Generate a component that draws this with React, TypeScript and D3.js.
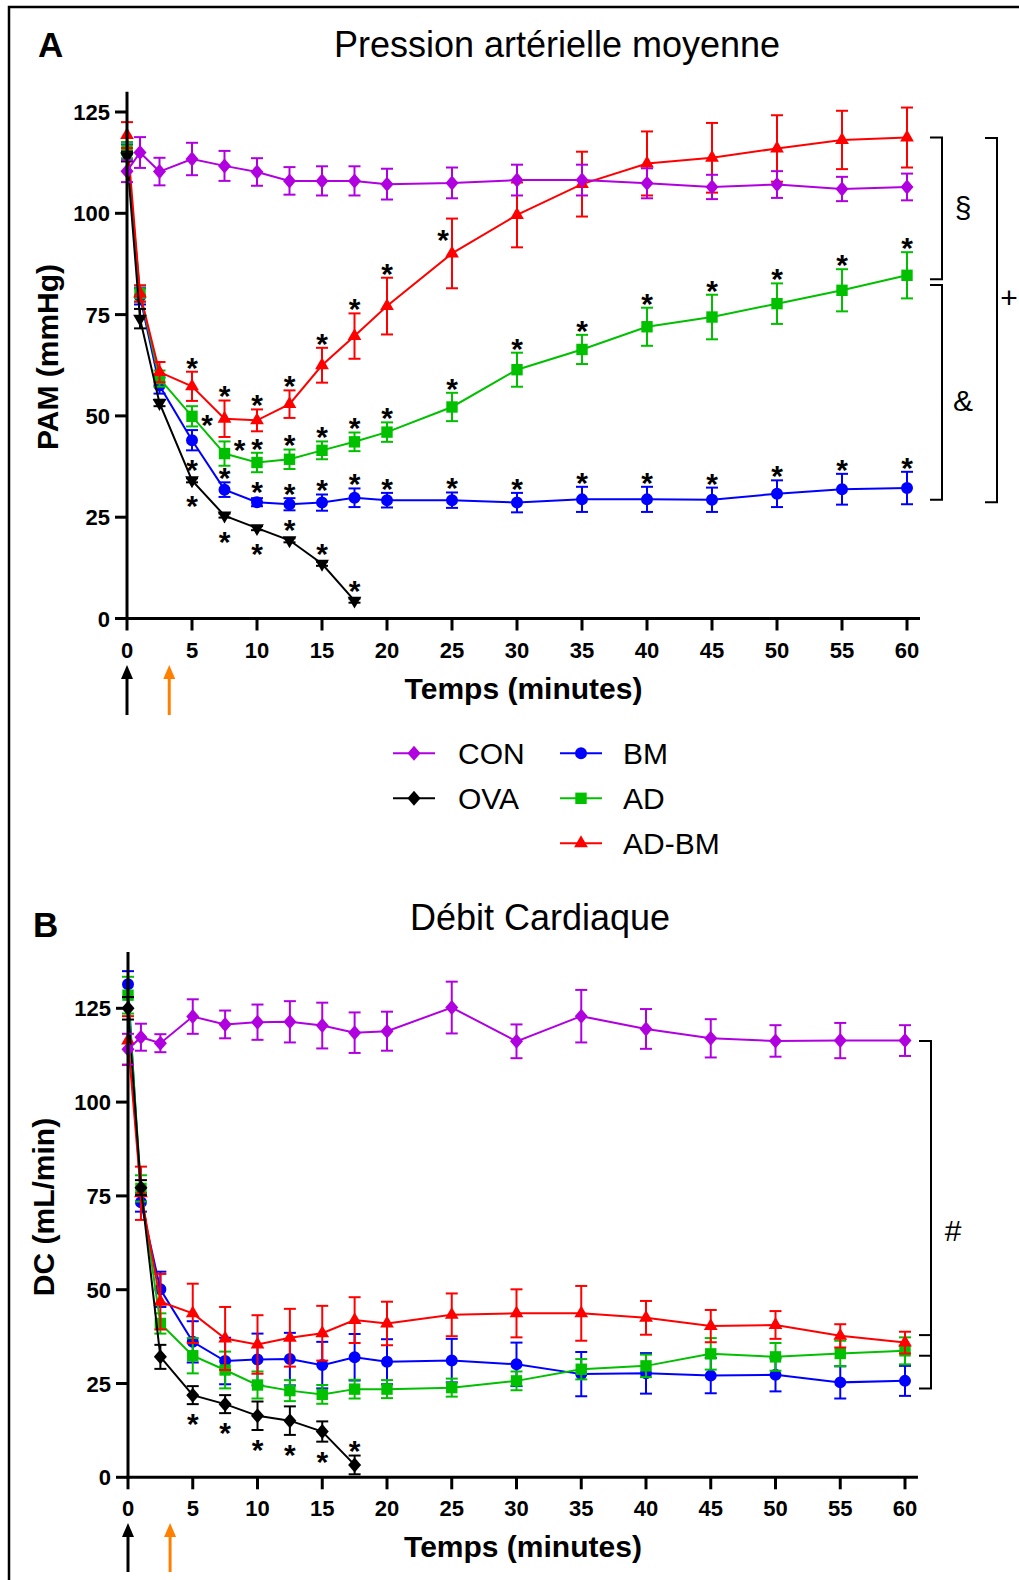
import React from 'react';
import * as d3 from 'd3';

// ---------- data ----------
const TIMES = [0, 1, 2.5, 5, 7.5, 10, 12.5, 15, 17.5, 20, 25, 30, 35, 40, 45, 50, 55, 60];
const TIMES_OVA = [0, 1, 2.5, 5, 7.5, 10, 12.5, 15, 17.5];
const X_TICKS = [0, 5, 10, 15, 20, 25, 30, 35, 40, 45, 50, 55, 60];
const Y_TICKS = [0, 25, 50, 75, 100, 125];

// Panel A : Pression artérielle moyenne (mmHg)
const A_CON = [110.4, 115.0, 110.3, 113.4, 111.7, 110.2, 108.0, 108.0, 108.0, 107.2, 107.5, 108.2, 108.2, 107.4, 106.5, 107.1, 106.0, 106.5];
const A_CON_ERR = [2.7, 3.8, 3.4, 4.0, 3.7, 3.4, 3.4, 3.6, 3.6, 3.8, 3.8, 3.8, 3.8, 3.7, 3.0, 3.3, 3.0, 3.3];
const A_OVA = [114.0, 74.0, 53.2, 34.1, 25.4, 22.3, 19.3, 13.5, 4.4];
const A_OVA_ERR = [1.2, 2.4, 0.8, 0.5, 0.5, 0.5, 0.5, 0.5, 0.5];
const A_BM = [115.0, 79.5, 57.5, 44.0, 31.8, 28.7, 28.2, 28.6, 29.8, 29.2, 29.2, 28.6, 29.4, 29.4, 29.3, 30.8, 31.9, 32.2];
const A_BM_ERR = [2.0, 2.0, 2.0, 2.5, 1.8, 1.0, 1.5, 2.0, 2.3, 1.8, 1.9, 2.4, 3.1, 3.1, 3.0, 3.3, 3.8, 4.0];
const A_AD = [115.6, 80.2, 59.2, 49.9, 40.7, 38.5, 39.3, 41.5, 43.6, 46.0, 52.2, 61.4, 66.4, 72.0, 74.4, 77.7, 81.0, 84.7];
const A_AD_ERR = [2.0, 2.0, 2.0, 2.5, 3.0, 2.4, 2.4, 2.2, 2.3, 2.4, 3.5, 4.2, 3.6, 4.7, 5.5, 5.0, 5.2, 5.7];
const A_ADBM = [119.3, 80.2, 60.8, 57.3, 49.3, 48.9, 52.9, 62.5, 69.7, 77.1, 90.1, 99.6, 107.2, 112.3, 113.7, 116.0, 118.1, 118.7];
const A_ADBM_ERR = [3.2, 2.0, 2.5, 3.6, 4.5, 2.7, 3.4, 4.3, 5.6, 7.0, 8.6, 8.0, 8.0, 7.9, 8.6, 8.2, 7.2, 7.4];

// Panel B : Débit cardiaque (mL/min)
const B_CON = [114.1, 117.3, 115.7, 122.8, 120.7, 121.3, 121.4, 120.4, 118.5, 118.9, 125.2, 116.2, 122.9, 119.5, 117.0, 116.3, 116.4, 116.4];
const B_CON_ERR = [4.1, 3.6, 2.4, 4.6, 3.7, 4.7, 5.5, 6.1, 5.4, 5.2, 6.9, 4.5, 7.0, 5.3, 5.1, 4.2, 4.7, 4.1];
const B_OVA = [125.0, 77.2, 32.1, 21.9, 19.5, 16.4, 15.1, 12.2, 3.3];
const B_OVA_ERR = [3.0, 2.0, 3.2, 2.4, 2.4, 3.8, 3.8, 2.7, 2.5];
const B_BM = [131.4, 73.3, 50.1, 36.1, 31.0, 31.4, 31.5, 29.9, 32.0, 30.8, 31.1, 30.1, 27.5, 27.7, 27.1, 27.3, 25.3, 25.7];
const B_BM_ERR = [3.5, 2.5, 4.7, 5.5, 6.2, 6.9, 7.0, 6.2, 6.2, 6.0, 5.8, 5.8, 5.9, 5.4, 4.7, 4.4, 4.3, 4.0];
const B_AD = [128.5, 77.0, 41.0, 32.4, 28.6, 24.6, 23.1, 22.1, 23.5, 23.5, 23.9, 25.7, 28.8, 29.7, 32.9, 32.1, 33.0, 33.7];
const B_AD_ERR = [4.9, 3.5, 2.7, 4.7, 4.9, 3.6, 2.8, 2.5, 2.5, 2.4, 2.4, 2.5, 2.7, 3.0, 4.2, 3.7, 3.4, 3.6];
const B_ADBM = [116.4, 75.7, 46.8, 43.7, 37.0, 35.4, 37.2, 38.4, 41.9, 41.0, 43.3, 43.7, 43.7, 42.5, 40.3, 40.6, 37.7, 35.9];
const B_ADBM_ERR = [6.5, 7.1, 7.4, 7.9, 8.4, 7.8, 7.7, 7.3, 6.1, 5.8, 5.7, 6.4, 7.3, 4.5, 4.3, 3.7, 3.1, 2.9];

// significance asterisks: [time, placement]
const A_STARS_ADBM: [number, string][] = [[5, 'above'], [7.5, 'above'], [10, 'above'], [12.5, 'above'], [15, 'above'], [17.5, 'above'], [20, 'above'], [25, 'aboveLeft']];
const A_STARS_AD: [number, string][] = [[5, 'right'], [7.5, 'aboveRight'], [10, 'above'], [12.5, 'above'], [15, 'above'], [17.5, 'above'], [20, 'above'], [25, 'above'], [30, 'above'], [35, 'above'], [40, 'above'], [45, 'above'], [50, 'above'], [55, 'above'], [60, 'above']];
const A_STARS_BM: [number, string][] = [[5, 'below'], [7.5, 'above'], [10, 'above'], [12.5, 'above'], [15, 'above'], [17.5, 'above'], [20, 'above'], [25, 'above'], [30, 'above'], [35, 'above'], [40, 'above'], [45, 'above'], [50, 'above'], [55, 'above'], [60, 'above']];
const A_STARS_OVA: [number, string][] = [[5, 'below'], [7.5, 'below'], [10, 'below'], [12.5, 'above'], [15, 'above'], [17.5, 'above']];
const B_STARS_OVA: [number, string][] = [[5, 'below'], [7.5, 'below'], [10, 'below'], [12.5, 'below'], [15, 'below'], [17.5, 'above']];

// brackets (values in data units)
const A_BRACKETS = [
  { top: 118.7, bottom: 83.7, ticks: [] as number[], label: '§', labelAt: 101.6, col: 0 },
  { top: 82.3, bottom: 29.3, ticks: [] as number[], label: '&', labelAt: 53.9, col: 0 },
  { top: 118.6, bottom: 28.7, ticks: [] as number[], label: '+', labelAt: 79.3, col: 1 },
];
const B_BRACKETS = [
  { top: 116.3, bottom: 23.7, ticks: [37.9, 32.4], label: '#', labelAt: 65.9, col: 0 },
];

const ARROW_TIMES = [0, 3.25];
const ARROW_COLORS = ['#000000', '#ff8000'];

const LEGEND_NAMES = ['CON', 'OVA', 'BM', 'AD', 'AD-BM'];

const COLORS: Record<string, string> = {
  CON: '#b000e0', OVA: '#000000', BM: '#0000ff', AD: '#00c000', 'AD-BM': '#ff0000',
};

const FONT = "'Liberation Sans', Arial, Helvetica, sans-serif";

// ---------- helpers ----------
function shapePath(shape: string): string {
  switch (shape) {
    case 'diamond': return 'M0,-7.5L6.5,0L0,7.5L-6.5,0Z';
    case 'circle': return d3.symbol(d3.symbolCircle, 113)() as string;
    case 'square': return d3.symbol(d3.symbolSquare, 130)() as string;
    case 'triangle': return d3.symbol(d3.symbolTriangle, 82)() as string;
    case 'triangleDown': return d3.symbol(d3.symbolTriangle, 82)() as string;
    default: return '';
  }
}

type Series = { name: string; times: number[]; values: number[]; errs: number[]; shape: string; stars?: [number, string][] };

type PanelProps = {
  letter: string; letterX: number; letterY: number;
  title: string; titleX: number; titleY: number;
  yLabel: string; yLabelX: number; yLabelY: number;
  xRange: [number, number]; yRange: [number, number]; yTop: number;
  series: Series[];
  brackets: typeof A_BRACKETS;
  bracketCols: number[]; labelCols: number[];
  arrowTop: number; arrowBottom: number;
};

function Panel(p: PanelProps) {
  const x = d3.scaleLinear().domain([0, 60]).range(p.xRange);
  const y = d3.scaleLinear().domain([0, 125]).range(p.yRange);
  const x0 = x(0);
  const y0 = y(0);
  const line = d3.line<[number, number]>().x(d => x(d[0])).y(d => y(d[1]));
  const starFs = 30;

  const starPos = (s: Series, t: number, place: string) => {
    const i = s.times.indexOf(t);
    const v = s.values[i];
    const e = s.errs[i];
    const px = x(t);
    const py = y(v);
    const top = Math.min(y(v + e), py - 6);
    const bot = Math.max(y(v - e), py + 6);
    switch (place) {
      case 'above': return [px, top - 11];
      case 'below': return [px, bot + 13];
      case 'right': return [px + 15, py + 2];
      case 'aboveRight': return [px + 15, y(v + e) + 2];
      case 'aboveLeft': return [px - 9, y(v + e) + 14];
      default: return [px, top - 11];
    }
  };

  return (
    <g>
      <text x={p.letterX} y={p.letterY} fontSize={35} fontWeight="bold" fontFamily={FONT}>{p.letter}</text>
      <text x={p.titleX} y={p.titleY} fontSize={36} textAnchor="middle" fontFamily={FONT}>{p.title}</text>

      {/* series */}
      {p.series.map(s => {
        const col = COLORS[s.name];
        const pts = s.times.map((t, i) => [t, s.values[i]] as [number, number]);
        const rot = s.shape === 'triangleDown' ? ' rotate(180)' : '';
        return (
          <g key={s.name}>
            <path d={line(pts) as string} fill="none" stroke={col} strokeWidth={2} />
            {s.times.map((t, i) => {
              const v = s.values[i], e = s.errs[i];
              const px = x(t);
              return (
                <g key={i} stroke={col} strokeWidth={2}>
                  <line x1={px} x2={px} y1={y(v + e)} y2={y(v - e)} />
                  <line x1={px - 6} x2={px + 6} y1={y(v + e)} y2={y(v + e)} />
                  <line x1={px - 6} x2={px + 6} y1={y(v - e)} y2={y(v - e)} />
                </g>
              );
            })}
            {s.times.map((t, i) => (
              <path key={'m' + i} d={shapePath(s.shape)} fill={col}
                transform={`translate(${x(t)},${y(s.values[i])})${rot}`} />
            ))}
          </g>
        );
      })}

      {/* asterisks */}
      {p.series.map(s => (s.stars || []).map(([t, place], k) => {
        const [sx, sy] = starPos(s, t, place);
        return (
          <text key={s.name + 'st' + k} x={sx} y={sy + 0.565 * starFs} fontSize={starFs}
            fontWeight="bold" textAnchor="middle" fontFamily={FONT}>*</text>
        );
      }))}

      {/* axes */}
      <line x1={x0} x2={x0} y1={y(p.yTop)} y2={y0 + 1.5} stroke="#000" strokeWidth={3} />
      <line x1={x0 - 1.5} x2={x(61)} y1={y0} y2={y0} stroke="#000" strokeWidth={3} />
      {Y_TICKS.map(v => (
        <g key={'yt' + v}>
          <line x1={x0 - 12} x2={x0} y1={y(v)} y2={y(v)} stroke="#000" strokeWidth={3} />
          <text x={x0 - 17} y={y(v) + 8} fontSize={22} fontWeight="bold" textAnchor="end" fontFamily={FONT}>{v}</text>
        </g>
      ))}
      {X_TICKS.map(t => (
        <g key={'xt' + t}>
          <line x1={x(t)} x2={x(t)} y1={y0} y2={y0 + 12} stroke="#000" strokeWidth={3} />
          <text x={x(t)} y={y0 + 39} fontSize={22} fontWeight="bold" textAnchor="middle" fontFamily={FONT}>{t}</text>
        </g>
      ))}
      <text x={(x0 + x(61)) / 2} y={y0 + 80} fontSize={30} fontWeight="bold" textAnchor="middle" fontFamily={FONT}>Temps (minutes)</text>
      <text transform={`translate(${p.yLabelX},${p.yLabelY}) rotate(-90)`} fontSize={30} fontWeight="bold"
        textAnchor="middle" fontFamily={FONT}>{p.yLabel}</text>

      {/* arrows */}
      {ARROW_TIMES.map((t, i) => {
        const ax = x(t);
        return (
          <g key={'ar' + i}>
            <line x1={ax} x2={ax} y1={p.arrowBottom} y2={p.arrowTop + 10} stroke={ARROW_COLORS[i]} strokeWidth={3} />
            <path d={`M${ax},${p.arrowTop}L${ax + 6},${p.arrowTop + 14}L${ax - 6},${p.arrowTop + 14}Z`} fill={ARROW_COLORS[i]} />
          </g>
        );
      })}

      {/* brackets */}
      {p.brackets.map((b, i) => {
        const bx = x(60) + p.bracketCols[b.col];
        const w = 12;
        return (
          <g key={'br' + i} stroke="#000" strokeWidth={2} fill="none">
            <path d={`M${bx - w},${y(b.top)}H${bx}V${y(b.bottom)}H${bx - w}`} />
            {b.ticks.map((tv, k) => (
              <line key={k} x1={bx - w} x2={bx} y1={y(tv)} y2={y(tv)} />
            ))}
            <text x={x(60) + p.labelCols[b.col]} y={y(b.labelAt) + 0.36 * 30} fontSize={30} textAnchor="middle"
              fontFamily={FONT} stroke="none" fill="#000">{b.label}</text>
          </g>
        );
      })}
    </g>
  );
}

function Legend() {
  const rows = [753.3, 798.3, 843.3];
  const cols = [{ l: 393, r: 435, t: 458 }, { l: 560, r: 602, t: 623 }];
  const shapes: Record<string, string> = { CON: 'diamond', OVA: 'diamond', BM: 'circle', AD: 'square', 'AD-BM': 'triangle' };
  const place: Record<string, [number, number]> = { CON: [0, 0], OVA: [0, 1], BM: [1, 0], AD: [1, 1], 'AD-BM': [1, 2] };
  return (
    <g>
      {LEGEND_NAMES.map(n => {
        const [c, r] = place[n];
        const cy = rows[r];
        const cc = cols[c];
        const col = COLORS[n];
        return (
          <g key={n}>
            <line x1={cc.l} x2={cc.r} y1={cy} y2={cy} stroke={col} strokeWidth={2} />
            <path d={shapePath(shapes[n])} fill={col} transform={`translate(${(cc.l + cc.r) / 2},${cy})`} />
            <text x={cc.t} y={cy + 10.7} fontSize={30} fontFamily={FONT}>{n}</text>
          </g>
        );
      })}
    </g>
  );
}

export default function App() {
  const seriesA: Series[] = [
    { name: 'BM', times: TIMES, values: A_BM, errs: A_BM_ERR, shape: 'circle', stars: A_STARS_BM },
    { name: 'AD', times: TIMES, values: A_AD, errs: A_AD_ERR, shape: 'square', stars: A_STARS_AD },
    { name: 'AD-BM', times: TIMES, values: A_ADBM, errs: A_ADBM_ERR, shape: 'triangle', stars: A_STARS_ADBM },
    { name: 'OVA', times: TIMES_OVA, values: A_OVA, errs: A_OVA_ERR, shape: 'triangleDown', stars: A_STARS_OVA },
    { name: 'CON', times: TIMES, values: A_CON, errs: A_CON_ERR, shape: 'diamond' },
  ];
  const seriesB: Series[] = [
    { name: 'BM', times: TIMES, values: B_BM, errs: B_BM_ERR, shape: 'circle' },
    { name: 'AD', times: TIMES, values: B_AD, errs: B_AD_ERR, shape: 'square' },
    { name: 'AD-BM', times: TIMES, values: B_ADBM, errs: B_ADBM_ERR, shape: 'triangle' },
    { name: 'OVA', times: TIMES_OVA, values: B_OVA, errs: B_OVA_ERR, shape: 'diamond', stars: B_STARS_OVA },
    { name: 'CON', times: TIMES, values: B_CON, errs: B_CON_ERR, shape: 'diamond' },
  ];
  return (
    <svg width={1019} height={1580} style={{ position: 'absolute', left: 0, top: 0, display: 'block', background: '#fff' }}>
      <rect x={0} y={0} width={1019} height={1580} fill="#fff" />
      <path d="M9,1585V7H1025" fill="none" stroke="#000" strokeWidth={2.5} />
      <Panel letter="A" letterX={38} letterY={57} title="Pression artérielle moyenne" titleX={557} titleY={57}
        yLabel="PAM (mmHg)" yLabelX={58} yLabelY={357}
        xRange={[127, 907]} yRange={[618.5, 112]} yTop={130}
        series={seriesA} brackets={A_BRACKETS} bracketCols={[35, 90]} labelCols={[56, 102]}
        arrowTop={665} arrowBottom={715} />
      <Legend />
      <Panel letter="B" letterX={33} letterY={937} title="Débit Cardiaque" titleX={540} titleY={930}
        yLabel="DC (mL/min)" yLabelX={54} yLabelY={1207}
        xRange={[128, 905]} yRange={[1477.3, 1008.3]} yTop={140}
        series={seriesB} brackets={B_BRACKETS} bracketCols={[26, 26]} labelCols={[48, 48]}
        arrowTop={1523} arrowBottom={1572} />
    </svg>
  );
}
